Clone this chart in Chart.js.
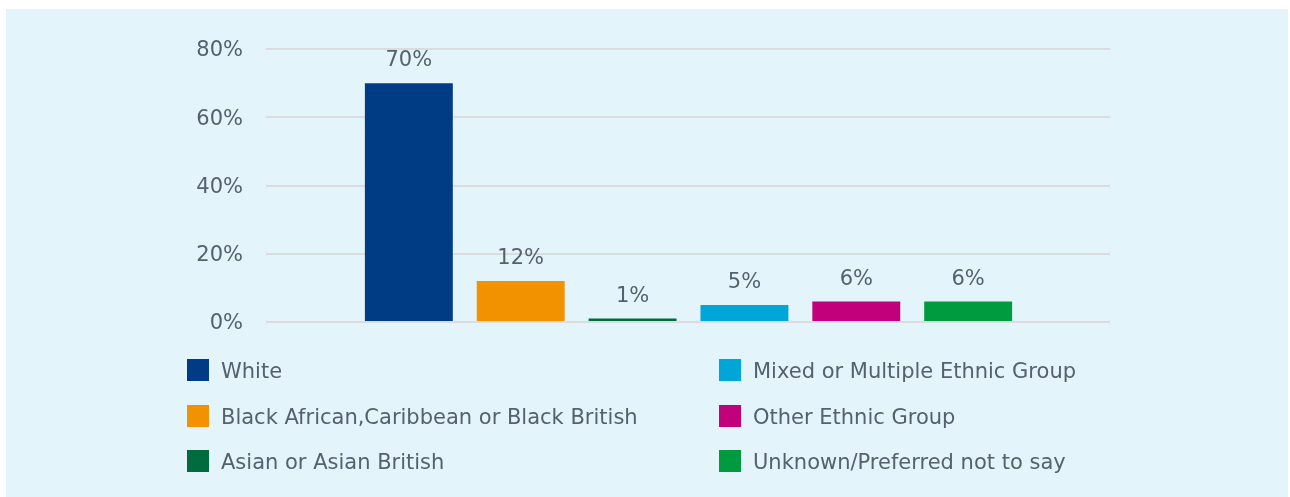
<!DOCTYPE html>
<html lang="en">
  <head>
    <meta charset="UTF-8" />
    <title>Ethnicity breakdown</title>
    <script src="https://cdn.jsdelivr.net/npm/chart.js"></script>
    <style>
      html, body { margin: 0; padding: 0; background: #ffffff; }
      #panel {
        position: absolute; left: 6px; top: 9px; width: 1282px; height: 488px;
        background: #e3f4fa;
      }
      #wrap { position: absolute; left: 0; top: 0; width: 1290px; height: 497px; }
      #legend {
        position: absolute; left: 187px; top: 359px;
        display: grid; grid-auto-flow: column;
        grid-template-rows: repeat(3, 45.5px);
        grid-template-columns: 532px 420px;
        font-family: "DejaVu Sans", sans-serif; font-size: 21px; color: #56616f;
      }
      .item { display: flex; align-items: flex-start; line-height: 25px; }
      .box { width: 22px; height: 22px; margin-right: 12px; flex: none; }
    </style>
  </head>
  <body>
    <div id="panel"></div>
    <div id="wrap"><canvas id="ethnic-chart" width="1290" height="497"></canvas></div>
    <div id="legend"></div>

    <script>
      // grupos y valores (%)
      const groups = [
        "White",
        "Black African,Caribbean or Black British",
        "Asian or Asian British",
        "Mixed or Multiple Ethnic Group",
        "Other Ethnic Group",
        "Unknown/Preferred not to say"
      ];
      const shares = [70, 12, 1, 5, 6, 6];
      const colors = ["#003c83", "#f39200", "#006b3f", "#00a6d8", "#c2007b", "#009b3e"];
      const yTicks = [0, 20, 40, 60, 80];

      const textColor = "#56616f";

      // etiquetas de valor encima de cada barra
      const valueLabels = {
        id: "valueLabels",
        afterDatasetsDraw(chart) {
          const ctx = chart.ctx;
          const meta = chart.getDatasetMeta(0);
          ctx.save();
          ctx.font = '21px "DejaVu Sans", sans-serif';
          ctx.fillStyle = textColor;
          ctx.textAlign = "center";
          ctx.textBaseline = "alphabetic";
          meta.data.forEach((bar, i) => {
            ctx.fillText(shares[i] + "%", bar.x, bar.y - 17);
          });
          ctx.restore();
        }
      };

      const chart = new Chart(document.getElementById("ethnic-chart"), {
        type: "bar",
        data: {
          datasets: [{
            data: shares.map((v, i) => ({ x: i, y: v })),
            backgroundColor: colors,
            borderWidth: 0,
            barPercentage: 0.786,
            categoryPercentage: 1
          }]
        },
        options: {
          responsive: false,
          animation: false,
          layout: { padding: { top: 49, bottom: 175, right: 180, left: 0 } },
          plugins: { legend: { display: false }, tooltip: { enabled: false } },
          scales: {
            x: {
              type: "linear",
              offset: false,
              min: -1.277,
              max: 6.268,
              display: false
            },
            y: {
              min: 0,
              max: 80,
              afterFit(scale) { scale.width = 266; },
              afterBuildTicks(scale) { scale.ticks = yTicks.map(v => ({ value: v })); },
              border: { display: false },
              grid: { color: "#dcdcdf", lineWidth: 2, drawTicks: false },
              ticks: {
                padding: 23,
                labelOffset: 2,
                color: textColor,
                font: { family: "DejaVu Sans", size: 21 },
                callback: v => v + "%"
              }
            }
          }
        },
        plugins: [valueLabels]
      });

      // leyenda en dos columnas
      const legend = document.getElementById("legend");
      groups.forEach((g, i) => {
        const item = document.createElement("div");
        item.className = "item";
        item.innerHTML = '<span class="box" style="background:' + colors[i] + '"></span><span>' + g + '</span>';
        legend.appendChild(item);
      });
    </script>
  </body>
</html>
